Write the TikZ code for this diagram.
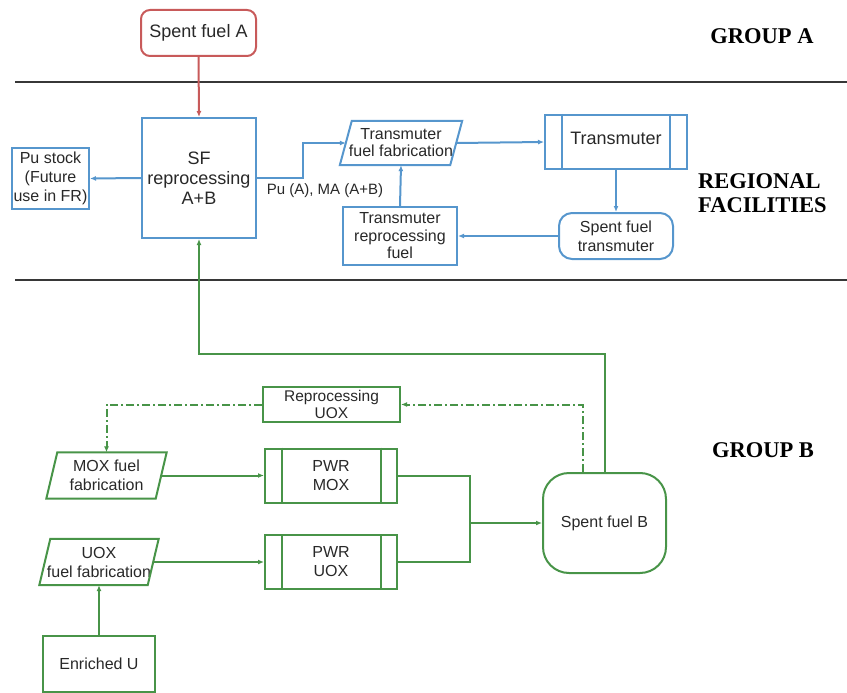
\documentclass[tikz,border=0pt]{standalone}
\usepackage{fontspec}
\setmainfont{Liberation Sans}
\newfontfamily\grpfont{Liberation Serif}
\usetikzlibrary{arrows.meta,calc}
\definecolor{cblue}{RGB}{86,150,205}
\definecolor{cgreen}{RGB}{72,148,72}
\definecolor{cred}{RGB}{200,90,90}
\definecolor{ctext}{RGB}{40,40,40}
\definecolor{cline}{RGB}{55,55,55}
\begin{document}
\begin{tikzpicture}[x=1pt,y=-1pt,
  box/.style={draw, line width=2pt, text=ctext, align=center, inner sep=0pt},
  bluebox/.style={box, draw=cblue},
  greenbox/.style={box, draw=cgreen},
  paratext/.style={text=ctext, align=center, inner sep=0pt},
  fbig/.style={font=\fontsize{18}{20}\selectfont},
  fmid/.style={font=\fontsize{16}{19}\selectfont},
  fsmall/.style={font=\fontsize{15.5}{17.5}\selectfont},
  grp/.style={font=\grpfont\bfseries\fontsize{22.5}{24}\selectfont, text=black, inner sep=0pt},
  tip/.style={-{Latex[length=6pt,width=5pt]}},
  bluearr/.style={draw=cblue, line width=2pt, tip},
  greenarr/.style={draw=cgreen, line width=2pt, tip},
  redarr/.style={draw=cred, line width=2pt, tip},
  dashdot/.style={dash pattern=on 8pt off 3pt on 2pt off 3pt},
  sep/.style={draw=cline, line width=2.6pt}
]
\useasboundingbox (0,0) rectangle (847,693);

% separators
\draw[sep] (15,82) -- (847,82);
\draw[sep] (15,280) -- (847,280);

% group labels
\node[grp] (ga) at (762,36) {GROUP A};
\node[grp, align=left, anchor=west] (rf) at (698,193) {REGIONAL\\FACILITIES};
\node[grp] (gb) at (763,450) {GROUP B};

% Group A / regional
\node[box, draw=cred, rounded corners=9pt, fbig, minimum width=115pt, minimum height=46pt] (sfa) at (198.5,33) {Spent fuel A};
\node[bluebox, fbig, minimum width=114pt, minimum height=120pt] (sf) at (199,178) {SF\\reprocessing\\A+B};
\node[bluebox, fmid, minimum width=77pt, minimum height=61pt] (pu) at (50.5,178.5) {Pu stock\\(Future\\use in FR)};

\node[paratext, font=\fontsize{16}{17}\selectfont, minimum width=110pt, minimum height=44pt] (tff) at (401,143) {Transmuter\\fuel fabrication};
\draw[cblue, line width=2pt] ([xshift=6pt]tff.north west) -- ([xshift=6pt]tff.north east) -- ([xshift=-6pt]tff.south east) -- ([xshift=-6pt]tff.south west) -- cycle;

\node[bluebox, font=\fontsize{16}{17.5}\selectfont, minimum width=114pt, minimum height=58pt] (tfr) at (400,236) {Transmuter\\reprocessing\\fuel};

\node[bluebox, fbig, minimum width=142pt, minimum height=54pt, text height=13pt, text depth=9pt] (tr) at (616,142) {Transmuter};
\draw[cblue, line width=2pt] ([xshift=18pt]tr.north west) -- ([xshift=18pt]tr.south west);
\draw[cblue, line width=2pt] ([xshift=-18pt]tr.north east) -- ([xshift=-18pt]tr.south east);

\node[bluebox, fmid, rounded corners=13pt, minimum width=114pt, minimum height=46pt] (sft) at (616,236) {Spent fuel\\transmuter};

\node[text=ctext, font=\fontsize{15}{17}\selectfont, inner sep=0pt] (lbl) at (325,191) {Pu (A), MA (A+B)};

% Group B
\node[greenbox, fsmall, minimum width=137pt, minimum height=35pt] (ruox) at (331.5,404.5) {Reprocessing\\UOX};

\node[paratext, fmid, minimum width=109pt, minimum height=46pt] (mox) at (106.5,475.5) {MOX fuel\\fabrication};
\draw[cgreen, line width=2pt] ([xshift=5.5pt]mox.north west) -- ([xshift=5.5pt]mox.north east) -- ([xshift=-5.5pt]mox.south east) -- ([xshift=-5.5pt]mox.south west) -- cycle;

\node[paratext, fmid, minimum width=108pt, minimum height=46pt] (uox) at (99,562) {UOX\\fuel fabrication};
\draw[cgreen, line width=2pt] ([xshift=5.5pt]uox.north west) -- ([xshift=5.5pt]uox.north east) -- ([xshift=-5.5pt]uox.south east) -- ([xshift=-5.5pt]uox.south west) -- cycle;

\node[greenbox, fmid, minimum width=132pt, minimum height=54pt] (pwrm) at (331,475.5) {PWR\\MOX};
\draw[cgreen, line width=2pt] ([xshift=18pt]pwrm.north west) -- ([xshift=18pt]pwrm.south west);
\draw[cgreen, line width=2pt] ([xshift=-17pt]pwrm.north east) -- ([xshift=-17pt]pwrm.south east);

\node[greenbox, fmid, minimum width=132pt, minimum height=54pt] (pwru) at (331,562) {PWR\\UOX};
\draw[cgreen, line width=2pt] ([xshift=18pt]pwru.north west) -- ([xshift=18pt]pwru.south west);
\draw[cgreen, line width=2pt] ([xshift=-17pt]pwru.north east) -- ([xshift=-17pt]pwru.south east);

\node[greenbox, fmid, minimum width=112pt, minimum height=56pt] (enr) at (99,664) {Enriched U};

\node[greenbox, fmid, rounded corners=26pt, minimum width=123pt, minimum height=100pt] (sfb) at (604.5,523) {Spent fuel B};

\coordinate (j) at (470,523);

% connectors: regional
\draw[redarr] (sfa.south) -- (sf.north);
\draw[bluearr] (sf.west) -- (pu.east);
\draw[bluearr] (sf.east) -- ++(46,0) |- (tff.west);
\draw[bluearr] (tfr.north) -- (tff.south);
\draw[bluearr] (tff.east) -- (tr.west);
\draw[bluearr] (tr.south) -- (sft.north);
\draw[bluearr] (sft.west) -- (tfr.east);

% connectors: group B
\draw[greenarr] (sfb.north) -- ++(0,-118) -| (sf.south);
\draw[greenarr, dashdot] ([xshift=-22pt]sfb.north) |- (ruox.east);
\draw[greenarr, dashdot] (ruox.west) -| (mox.north);
\draw[greenarr] (mox.east) -- (pwrm.west);
\draw[greenarr] (uox.east) -- (pwru.west);
\draw[greenarr] (enr.north) -- (uox.south);
\draw[cgreen, line width=2pt] (pwrm.east) -| (j);
\draw[cgreen, line width=2pt] (pwru.east) -| (j);
\draw[greenarr] (j) -- (sfb.west);
\end{tikzpicture}
\end{document}
